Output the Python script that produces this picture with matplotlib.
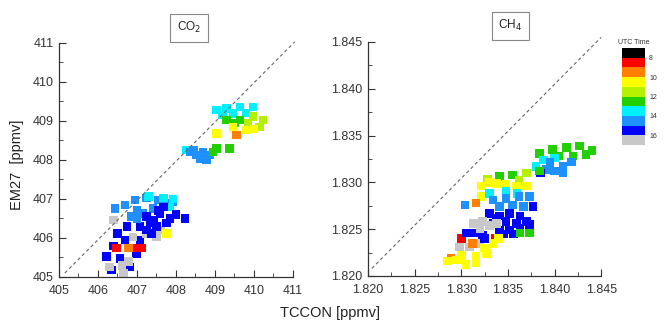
import matplotlib
matplotlib.use("Agg")
import matplotlib.pyplot as plt
from matplotlib.colors import ListedColormap, BoundaryNorm
from matplotlib.ticker import MultipleLocator

plt.rcParams['font.family'] = ['Liberation Sans', 'DejaVu Sans']

# colour classes (UTC hour)
time_bounds = [7, 8, 9, 10, 11, 12, 13, 14, 15, 16, 17]
time_colors = ['#000000', '#ff0000', '#ff7f00', '#ffff00', '#b5f000',
               '#22d000', '#00f0ff', '#1e90ff', '#0000ff', '#c8c8c8']
cbar_ticks = [8, 10, 12, 14, 16]

# CO2 (EM27 vs TCCON), ppmv
co2_x = [406.22, 406.35, 406.56, 406.69, 406.50, 406.82, 406.99, 407.08, 406.74, 406.62, 406.40,
         406.30, 406.65, 406.90, 407.25, 407.50, 406.40, 407.76, 406.78, 407.60,
         406.48, 406.99, 407.12, 406.78, 407.08, 407.76,
         406.44, 406.69, 406.95, 407.25, 407.55, 407.76, 407.93, 406.86, 407.16, 407.41, 407.00,
         407.30, 407.68, 407.93, 407.85,
         407.25, 407.42, 407.59, 407.50, 407.76, 407.08, 407.25, 408.00, 408.23, 407.85, 407.68,
         407.38, 407.00, 407.55, 407.35,
         408.27, 408.36, 408.53, 408.70, 408.87, 408.62, 408.79, 408.45,
         409.04, 409.38, 408.95,
         409.04, 409.30, 409.64, 409.98, 409.47, 409.80, 409.20,
         409.30, 409.64, 409.98, 410.24, 410.15, 409.50, 409.85,
         409.47, 409.81, 410.00, 409.04,
         409.56]
co2_y = [405.52, 405.18, 405.48, 405.95, 406.12, 405.26, 405.60, 405.95, 406.29, 405.30, 405.80,
         405.26, 405.10, 406.03, 406.12, 406.03, 406.46, 406.12, 405.40, 406.20,
         405.74, 405.74, 405.74, 405.74, 406.29, 406.12,
         406.76, 406.85, 406.97, 407.02, 406.97, 406.89, 406.93, 406.55, 406.63, 406.76, 406.72,
         407.06, 407.02, 407.00, 406.80,
         406.55, 406.46, 406.63, 406.29, 406.38, 406.29, 406.20, 406.60, 406.50, 406.50, 406.80,
         406.12, 406.50, 406.70, 406.40,
         408.26, 408.21, 408.13, 408.21, 408.13, 408.04, 408.00, 408.25,
         408.30, 408.30, 408.20,
         409.28, 409.32, 409.36, 409.36, 409.19, 409.20, 409.15,
         409.02, 409.02, 409.11, 409.02, 408.85, 408.95, 408.95,
         408.85, 408.77, 408.80, 408.68,
         408.64]
co2_t = [15.5, 15.5, 15.5, 15.5, 15.5, 15.5, 15.5, 15.5, 15.5, 16.5, 15.5,
         16.5, 16.5, 16.5, 16.5, 16.5, 16.5, 16.5, 16.5, 16.5,
         8.5, 8.5, 8.5, 9.5, 10.5, 10.5,
         14.5, 14.5, 14.5, 14.5, 14.5, 14.5, 14.5, 14.5, 14.5, 14.5, 14.5,
         13.5, 13.5, 13.5, 13.5,
         15.5, 15.5, 15.5, 15.5, 15.5, 15.5, 15.5, 15.5, 15.5, 15.5, 15.5,
         15.5, 14.5, 15.5, 15.5,
         13.5, 14.5, 14.5, 14.5, 14.5, 14.5, 14.5, 14.5,
         12.5, 12.5, 12.5,
         13.5, 13.5, 13.5, 13.5, 13.5, 13.5, 13.5,
         12.5, 12.5, 11.5, 11.5, 11.5, 12.5, 11.5,
         10.5, 10.5, 10.5, 10.5,
         9.5]

# CH4 (EM27 vs TCCON), ppmv
ch4_x = [1.8384, 1.8398, 1.8413, 1.8427, 1.8434, 1.8420, 1.8405, 1.8440,
         1.8388, 1.8380, 1.8400,
         1.8395, 1.8409, 1.8391, 1.8400, 1.8409, 1.8385, 1.8418,
         1.8341, 1.8355, 1.8370, 1.8384, 1.8328, 1.8362,
         1.8338, 1.8348, 1.8359, 1.8370, 1.8321, 1.8321, 1.8330,
         1.8348, 1.8330, 1.8360,
         1.8334, 1.8348, 1.8362, 1.8373, 1.8341, 1.8355, 1.8304, 1.8367,
         1.8377, 1.8330, 1.8341, 1.8352, 1.8363, 1.8334, 1.8348, 1.8359, 1.8370,
         1.8341, 1.8352, 1.8363, 1.8373, 1.8313, 1.8323, 1.8345, 1.8356, 1.8338,
         1.8313, 1.8323, 1.8320, 1.8338, 1.8330, 1.8298, 1.8309, 1.8320,
         1.8373, 1.8363,
         1.8300, 1.8336,
         1.8312, 1.8316, 1.8289, 1.8285,
         1.8295, 1.8305, 1.8316, 1.8327, 1.8334, 1.8316, 1.8300, 1.8325, 1.8340,
         1.8305, 1.8325]
ch4_y = [1.8331, 1.8335, 1.8337, 1.8339, 1.8330, 1.8328, 1.8328, 1.8334,
         1.8324, 1.8317, 1.8326,
         1.8321, 1.8317, 1.8314, 1.8312, 1.8310, 1.8310, 1.8322,
         1.8306, 1.8308, 1.8310, 1.8312, 1.8303, 1.8302,
         1.8299, 1.8298, 1.8296, 1.8296, 1.8296, 1.8285, 1.8300,
         1.8290, 1.8288, 1.8288,
         1.8281, 1.8283, 1.8285, 1.8285, 1.8274, 1.8276, 1.8276, 1.8274,
         1.8274, 1.8267, 1.8264, 1.8267, 1.8264, 1.8256, 1.8258, 1.8256, 1.8258,
         1.8249, 1.8249, 1.8251, 1.8255, 1.8246, 1.8244, 1.8245, 1.8245, 1.8262,
         1.8256, 1.8258, 1.8251, 1.8256, 1.8254, 1.8231, 1.8231, 1.8235,
         1.8246, 1.8246,
         1.8240, 1.8240,
         1.8235, 1.8278, 1.8219, 1.8216,
         1.8217, 1.8212, 1.8214, 1.8224, 1.8235, 1.8221, 1.8222, 1.8230, 1.8240,
         1.8246, 1.8240]
ch4_t = [12.5, 12.5, 12.5, 12.5, 12.5, 12.5, 12.5, 12.5,
         13.5, 13.5, 13.5,
         14.5, 14.5, 14.5, 14.5, 14.5, 15.5, 14.5,
         12.5, 12.5, 11.5, 12.5, 11.5, 11.5,
         10.5, 10.5, 10.5, 10.5, 10.5, 10.5, 10.5,
         13.5, 13.5, 13.5,
         14.5, 14.5, 14.5, 14.5, 14.5, 14.5, 14.5, 14.5,
         15.5, 15.5, 15.5, 15.5, 15.5, 15.5, 15.5, 15.5, 15.5,
         15.5, 15.5, 15.5, 15.5, 15.5, 15.5, 15.5, 15.5, 15.5,
         16.5, 16.5, 16.5, 16.5, 16.5, 16.5, 16.5, 16.5,
         12.5, 12.5,
         8.5, 8.5,
         9.5, 9.5, 9.5, 10.5,
         10.5, 10.5, 10.5, 10.5, 10.5, 10.5, 10.5, 10.5, 10.5,
         15.5, 15.5]

cmap = ListedColormap(time_colors)
norm = BoundaryNorm(time_bounds, cmap.N)

fig = plt.figure(figsize=(6.66, 3.34), dpi=100)
ax1 = fig.add_axes([0.0886, 0.1707, 0.351, 0.7006])
ax2 = fig.add_axes([0.5526, 0.1737, 0.350, 0.7006])
cax = fig.add_axes([0.934, 0.566, 0.0345, 0.29])

tick_col = '#333333'

def style(ax, lo, hi, step, fmt):
    ax.set_xlim(lo, hi)
    ax.set_ylim(lo, hi)
    ax.xaxis.set_major_locator(MultipleLocator(step))
    ax.yaxis.set_major_locator(MultipleLocator(step))
    ax.xaxis.set_minor_locator(MultipleLocator(step / 2))
    ax.yaxis.set_minor_locator(MultipleLocator(step / 2))
    ax.xaxis.set_major_formatter(fmt)
    ax.yaxis.set_major_formatter(fmt)
    for s in ['top', 'right']:
        ax.spines[s].set_visible(False)
    for s in ['left', 'bottom']:
        ax.spines[s].set_color(tick_col)
        ax.spines[s].set_linewidth(0.9)
    ax.tick_params(which='both', direction='in', colors=tick_col, labelsize=9)
    ax.tick_params(axis='x', pad=6)
    ax.tick_params(axis='y', pad=4)
    ax.tick_params(which='major', length=5)
    ax.tick_params(which='minor', length=3)

ax1.scatter(co2_x, co2_y, c=co2_t, cmap=cmap, norm=norm, marker='s', s=38, linewidths=0)
ax1.plot([405.15, 411.05], [405.1, 411.03], color='#666666', lw=0.8,
         dashes=(3, 2.5), clip_on=False)
style(ax1, 405, 411, 1, '{x:.0f}')

ax2.scatter(ch4_x, ch4_y, c=ch4_t, cmap=cmap, norm=norm, marker='s', s=38, linewidths=0)
ax2.plot([1.8204, 1.8450], [1.8208, 1.8455], color='#666666', lw=0.8,
         dashes=(3, 2.5), clip_on=False)
style(ax2, 1.820, 1.845, 0.005, '{x:.3f}')

box = dict(boxstyle='square,pad=0.55', fc='white', ec='#888888', lw=0.8)
ax1.text(0.556, 1.065, 'CO$_2$', transform=ax1.transAxes, ha='center', va='center',
         fontsize=8.5, color='#222222', bbox=box)
ax2.text(0.61, 1.07, 'CH$_4$', transform=ax2.transAxes, ha='center', va='center',
         fontsize=8.5, color='#222222', bbox=box)

fig.text(0.026, 0.506, 'EM27  [ppmv]', rotation=90, ha='center', va='center',
         fontsize=10.5, color='#222222')
fig.text(0.496, 0.062, 'TCCON [ppmv]', ha='center', va='center',
         fontsize=10.5, color='#222222')

cb = fig.colorbar(plt.cm.ScalarMappable(norm=norm, cmap=cmap), cax=cax, ticks=cbar_ticks)
cb.outline.set_visible(False)
cb.minorticks_off()
cax.invert_yaxis()
cb.ax.tick_params(which='both', length=0, labelsize=5, colors='#333333', pad=3)
cax.set_title('UTC Time', fontsize=5, color='#333333', pad=3)

fig.savefig('out.png', dpi=100)
